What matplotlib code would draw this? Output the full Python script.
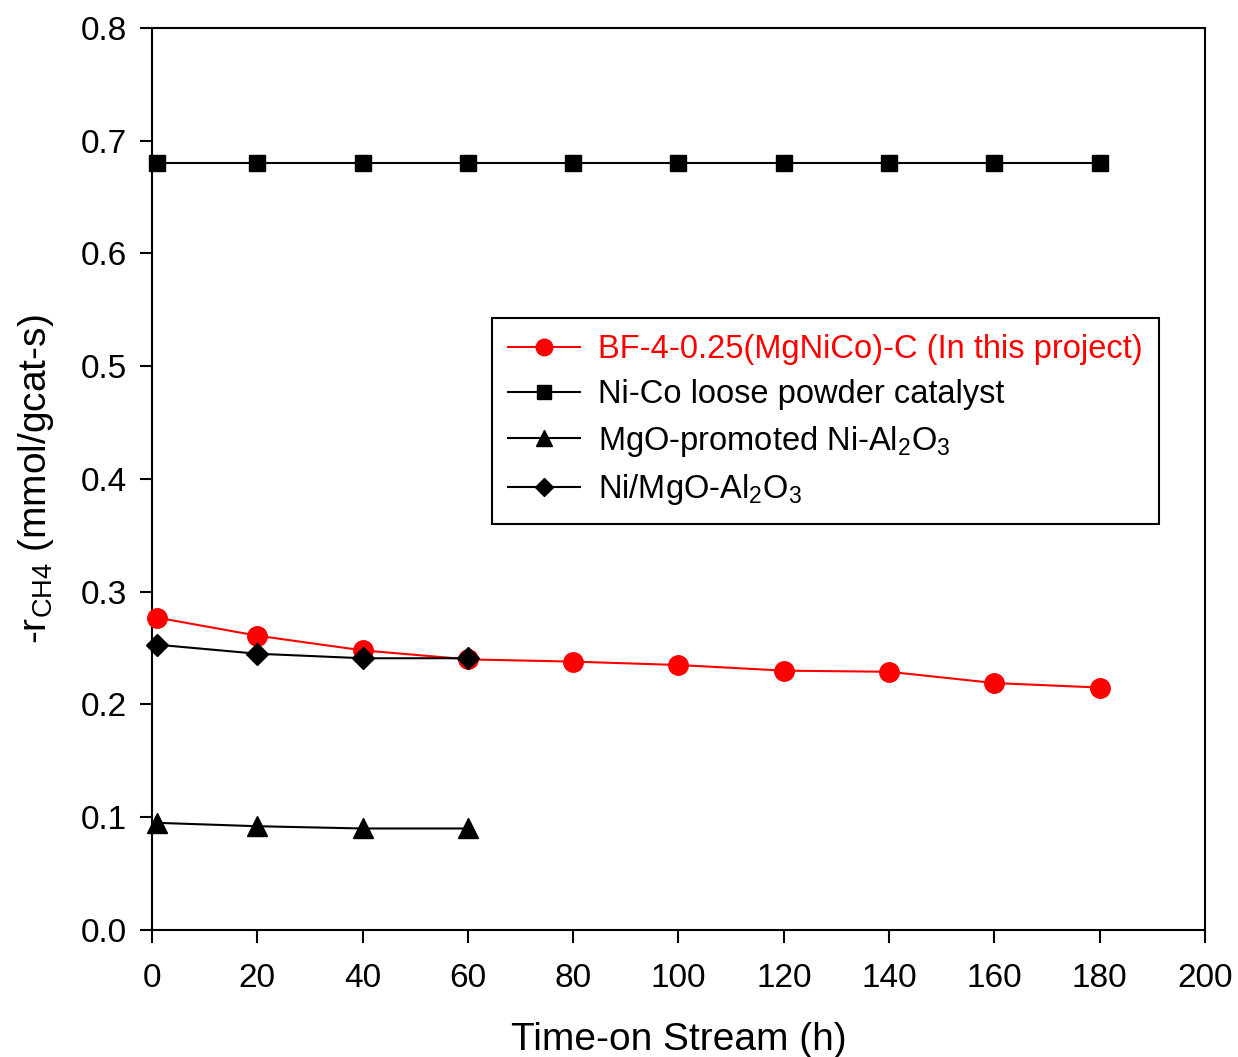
import matplotlib
matplotlib.use("Agg")
import matplotlib.pyplot as plt

plt.rcParams['font.family'] = ['Liberation Sans', 'DejaVu Sans']
plt.rcParams['mathtext.fontset'] = 'custom'
plt.rcParams['mathtext.rm'] = 'Liberation Sans'
plt.rcParams['mathtext.it'] = 'Liberation Sans'
plt.rcParams['mathtext.default'] = 'regular'

# data
hours_long = [1, 20, 40, 60, 80, 100, 120, 140, 160, 180]
hours_short = [1, 20, 40, 60]
bf_rate = [0.277, 0.261, 0.248, 0.240, 0.238, 0.235, 0.230, 0.229, 0.219, 0.215]
nico_rate = [0.680, 0.680, 0.680, 0.680, 0.680, 0.680, 0.680, 0.680, 0.680, 0.680]
mgo_promoted_rate = [0.095, 0.092, 0.090, 0.090]
ni_mgo_rate = [0.253, 0.245, 0.241, 0.241]

x_ticks = [0, 20, 40, 60, 80, 100, 120, 140, 160, 180, 200]
y_ticks = [0.0, 0.1, 0.2, 0.3, 0.4, 0.5, 0.6, 0.7, 0.8]

fig = plt.figure(figsize=(12.38, 10.57), dpi=100)
ax = fig.add_axes([0.1228, 0.1202, 0.8505, 0.8533])

ax.plot(hours_long, bf_rate, color='red', marker='o', markersize=14, linewidth=1.5,
        label='BF-4-0.25(MgNiCo)-C (In this project)', clip_on=False, zorder=3)
ax.plot(hours_long, nico_rate, color='black', marker='s', markersize=12, linewidth=1.5,
        label='Ni-Co loose powder catalyst', clip_on=False, zorder=3)
ax.plot(hours_short, mgo_promoted_rate, color='black', marker='^', markersize=14, linewidth=1.5,
        label='MgO-promoted Ni-Al$_2$O$_3$', clip_on=False, zorder=3)
ax.plot(hours_short, ni_mgo_rate, color='black', marker='D', markersize=11, linewidth=1.5,
        label='Ni/MgO-Al$_2$O$_3$', clip_on=False, zorder=4)

ax.set_xlim(0, 200)
ax.set_ylim(0, 0.8)
ax.set_xticks(x_ticks)
ax.set_yticks(y_ticks)
ax.set_yticklabels([f'{v:.1f}' for v in y_ticks])
ax.tick_params(direction='out', length=9, width=1.5, labelsize=24)
ax.tick_params(axis='x', pad=15)
ax.tick_params(axis='y', pad=9)
for sp in ax.spines.values():
    sp.set_linewidth(1.5)

ax.set_xlabel('Time-on Stream (h)', fontsize=28, labelpad=20)
ax.set_ylabel('-r$_{CH4}$ (mmol/gcat-s)', fontsize=28, labelpad=18)

leg = ax.legend(loc='upper left', bbox_to_anchor=(0.323, 0.6785), fontsize=23.5,
                frameon=True, fancybox=False, edgecolor='black', framealpha=1,
                markerscale=0.85, handlelength=2.2, borderpad=0.5, labelspacing=0.42,
                handletextpad=0.55, borderaxespad=0,
                labelcolor=['red', 'black', 'black', 'black'])
leg.get_frame().set_linewidth(1.5)

fig.savefig('out.png', dpi=100, facecolor='white')
